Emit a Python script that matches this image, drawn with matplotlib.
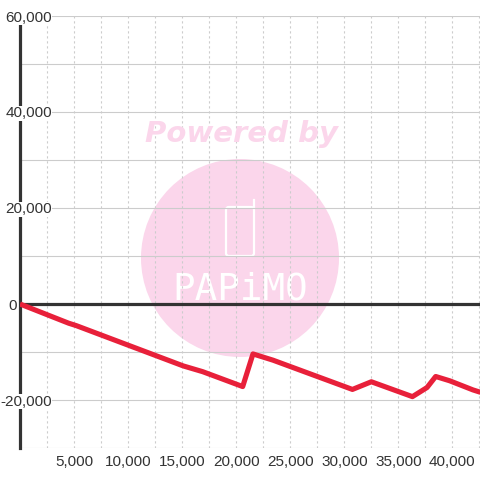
import matplotlib
matplotlib.use('Agg')
import matplotlib.pyplot as plt
import matplotlib.patches as patches
import matplotlib.transforms as mtransforms
from matplotlib.ticker import FixedLocator, FuncFormatter

# series
dist = [0, 4500, 5200, 15100, 16900, 20600, 21550, 23400, 30750, 32500,
        36300, 37650, 38450, 39750, 41900, 42600]
value = [0, -4000, -4500, -12900, -14100, -17200, -10400, -11700, -17800, -16200,
         -19300, -17400, -15100, -16000, -17900, -18400]

x_labels = [5000, 10000, 15000, 20000, 25000, 30000, 35000, 40000]
x_grid = [2500 * i for i in range(1, 18)]
y_labels = [-20000, 0, 20000, 40000, 60000]
y_grid = [-30000, -20000, -10000, 0, 10000, 20000, 30000, 40000, 50000, 60000]

red = '#e8203a'
dark = '#333333'
grid_c = '#cccccc'
pink = '#fbd6eb'

plt.rcParams['font.family'] = ['Liberation Sans', 'DejaVu Sans']

fig = plt.figure(figsize=(4.8, 4.8), dpi=100)
ax = fig.add_axes([20 / 480, 1 - 448 / 480, 460 / 480, 432 / 480])

ax.set_xlim(0, 42550)
ax.set_ylim(-30000, 60000)

# watermark (behind grid)
circ = patches.Circle((0.5, 1 - 258 / 480), 99 / 480, transform=fig.transFigure,
                      facecolor=pink, edgecolor='none', zorder=0.1, clip_on=False)
ax.add_patch(circ)
phone = patches.FancyBboxPatch((226 / 480, 1 - 256 / 480), 28 / 480, 49 / 480,
                               boxstyle='round,pad=0,rounding_size=0.006',
                               transform=fig.transFigure, facecolor='none',
                               edgecolor='white', lw=1.6, zorder=0.2, clip_on=False)
ax.add_patch(phone)
ax.plot([254.5 / 480, 254.5 / 480], [1 - 207 / 480, 1 - 200 / 480], color='white',
        lw=1.6, transform=fig.transFigure, zorder=0.2, clip_on=False)
fig.text(0.504, 1 - 134 / 480, 'Powered by', ha='center', va='center',
         fontsize=21, fontweight='bold', fontstyle='italic', family='DejaVu Sans',
         color=pink, zorder=0.2)
ax.text(0.5, 1 - 289 / 480, 'PAPiMO', transform=fig.transFigure, ha='center',
        va='center', fontsize=27, family='DejaVu Sans Mono', color='white', zorder=0.2)

# grid
ax.set_axisbelow(True)
ax.set_xticks(x_labels)
ax.xaxis.set_minor_locator(FixedLocator(x_grid))
ax.set_yticks(y_grid)
ax.set_yticklabels([])
ax.grid(True, axis='x', which='both', color=grid_c, lw=0.8, ls=(0, (2, 2.5)))
ax.grid(True, axis='y', which='major', color=grid_c, lw=0.8, ls='-')

ax.xaxis.set_major_formatter(FuncFormatter(lambda v, p: f'{int(v):,}'))
ax.tick_params(which='both', length=0)
ax.tick_params(axis='x', pad=5, labelsize=11, labelcolor=dark)
ax.tick_params(axis='y', labelleft=False)

# y labels, right-aligned left of the spine with white backing
trans = mtransforms.blended_transform_factory(fig.transFigure, ax.transData)
for v in y_labels:
    xr = 17 / 480 if v == 0 else 52 / 480
    ax.text(xr, v, f'{v:,}', transform=trans, ha='right', va='center_baseline',
            fontsize=11, color=dark, zorder=5, clip_on=False,
            bbox=dict(facecolor='white', edgecolor='none', pad=0.3))

for s in ['top', 'right', 'bottom']:
    ax.spines[s].set_visible(False)
ax.spines['left'].set_color(dark)
ax.spines['left'].set_linewidth(2.3)
ax.spines['left'].set_zorder(2)

ax.axhline(0, color=dark, lw=2.3, zorder=2)
ax.plot(dist, value, color=red, lw=3.7, zorder=3, solid_joinstyle='round',
        solid_capstyle='butt')

fig.savefig('out.png', dpi=100)
